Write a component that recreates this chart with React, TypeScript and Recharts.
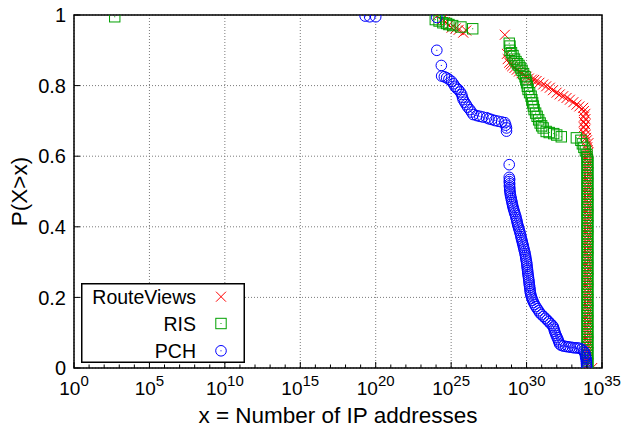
import React from 'react';
import { ScatterChart, Scatter, XAxis, YAxis, CartesianGrid, ReferenceArea, Legend } from 'recharts';

const FONT = '"Liberation Sans", Arial, Helvetica, sans-serif';
const RED = '#ff0000';
const GREEN = '#00a000';
const BLUE = '#0000ff';

const xDecades = [0,1,2,3,4,5,6,7,8,9,10,11,12,13,14,15,16,17,18,19,20,21,22,23,24,25,26,27,28,29,30,31,32,33,34,35];
const xMajor = [0,5,10,15,20,25,30,35];
const yTicks = [0,0.2,0.4,0.6,0.8,1];
const yTickLabels = ['0','0.2','0.4','0.6','0.8','1'];
const seriesNames = ['RouteViews','RIS','PCH'];

const rvLogX = [24.05,24.37,24.6,24.85,25.03,25.3,25.5,25.8,26.0,
  28.56,
  28.7,28.75,28.85,28.95,29.05,29.2,29.35,29.5,29.67,29.85,30.0,30.15,30.35,30.5,30.66,30.85,31.1,31.3,31.54,31.75,31.99,32.2,32.43,32.65,32.87,33.1,33.31,33.5,33.75,
  33.8,33.9,33.8,33.9,33.8,33.9,33.8,33.9,33.8,33.9,33.95,34.0,34.1,
  34.02,34.08,34.02,34.08,34.02,34.08,34.02,34.08,34.02,34.08,34.02,34.08,34.02,34.08,34.02,34.08,34.02,34.08,34.02,34.08,34.02,34.08,34.02,34.08,34.02,34.08,34.02,34.08,34.02,34.08,34.02,34.08,34.02,34.08,34.02,34.08,34.02,34.08,34.02,34.08,34.02,34.08,
  34.35];
const rvY = [0.997,0.985,0.98,0.972,0.964,0.962,0.958,0.95,0.956,
  0.944,
  0.89,0.875,0.865,0.86,0.855,0.85,0.845,0.84,0.835,0.83,0.825,0.82,0.817,0.816,0.813,0.808,0.803,0.798,0.794,0.787,0.78,0.775,0.77,0.765,0.76,0.753,0.746,0.741,0.737,
  0.728,0.72,0.712,0.705,0.697,0.69,0.682,0.675,0.667,0.66,0.652,0.645,0.637,
  0.625,0.61,0.595,0.58,0.565,0.55,0.535,0.52,0.505,0.49,0.475,0.46,0.445,0.43,0.415,0.4,0.385,0.37,0.355,0.34,0.325,0.31,0.295,0.28,0.265,0.25,0.235,0.22,0.205,0.19,0.175,0.16,0.145,0.13,0.115,0.1,0.085,0.07,0.055,0.04,0.025,0.01,
  0.0];
// extra RouteViews points in the dense vertical column near 10^34
const rvColumnLogX = 34.05;
const rvColumnY = [0.6175,0.6025,0.5875,0.5725,0.5575,0.5425,0.5275,0.5125,0.4975,0.4825,0.4675,0.4525,0.4375,0.4225,0.4075,0.3925,0.3775,0.3625,0.3475,0.3325,0.3175,0.3025,0.2875,0.2725,0.2575,0.2425,0.2275,0.2125,0.1975,0.1825,0.1675,0.1525,0.1375,0.1225,0.1075,0.0925,0.0775,0.0625,0.0475,0.0325,0.0175];

const risLogX = [2.7,
  23.95,24.2,24.45,24.7,24.85,25.1,25.65,26.43,
  28.85,28.9,28.9,29.0,29.1,29.2,29.3,29.4,29.5,29.6,29.7,29.8,29.9,29.95,30.0,30.05,30.1,30.2,30.3,30.35,30.4,30.45,30.5,30.6,30.7,30.8,30.9,31.0,31.1,31.3,31.5,31.8,32.0,32.3,
  33.3,33.6,33.7,33.8,33.9,34.0,
  34.0,34.07,34.0,34.07,34.0,34.07,34.0,34.07,34.0,34.07,34.0,34.07,34.0,34.07,34.0,34.07,34.0,34.07,34.0,34.07,34.0,34.07,34.0,34.07,34.0,34.07,34.0,34.07,34.0,34.07,34.0,34.07,34.0,34.07,34.0,34.07,34.0,34.07,34.0,34.07,34.0,34.07,
  34.35];
const risY = [0.995,
  0.987,0.983,0.978,0.976,0.973,0.97,0.966,0.961,
  0.92,0.912,0.9,0.893,0.885,0.875,0.868,0.862,0.857,0.85,0.843,0.834,0.825,0.816,0.808,0.798,0.789,0.78,0.77,0.76,0.751,0.742,0.732,0.722,0.713,0.703,0.694,0.686,0.68,0.67,0.667,0.664,0.66,0.655,
  0.652,0.645,0.635,0.625,0.615,0.605,
  0.598,0.583,0.568,0.553,0.538,0.523,0.508,0.493,0.478,0.463,0.448,0.433,0.418,0.403,0.388,0.373,0.358,0.343,0.328,0.313,0.298,0.283,0.268,0.253,0.238,0.223,0.208,0.193,0.178,0.163,0.148,0.133,0.118,0.103,0.088,0.073,0.058,0.043,0.028,0.013,
  0.0];
// extra RIS points in the dense vertical column near 10^34
const risColumnLogX = 34.035;
const risColumnY = [0.5905,0.5755,0.5605,0.5455,0.5305,0.5155,0.5005,0.4855,0.4705,0.4555,0.4405,0.4255,0.4105,0.3955,0.3805,0.3655,0.3505,0.3355,0.3205,0.3055,0.2905,0.2755,0.2605,0.2455,0.2305,0.2155,0.2005,0.1855,0.1705,0.1555,0.1405,0.1255,0.1105,0.0955,0.0805,0.0655,0.0505,0.0355,0.0205,0.0055];

const pchLogX = [19.3,19.6,20.0,
  24.05,
  24.05,24.35,
  24.37,24.55,24.7,24.85,25.03,25.15,25.25,25.35,25.47,25.6,25.7,25.75,25.8,25.9,26.0,26.1,26.24,26.35,26.46,26.7,26.9,27.1,27.35,27.5,27.68,27.9,28.12,28.35,28.56,28.62,28.67,28.67,
  28.85,
  28.85,28.88,28.85,28.88,28.86,28.89,28.88,28.91,28.92,28.95,28.98,29.01,29.04,29.07,29.1,29.14,29.18,29.22,29.27,29.3,29.34,29.37,29.4,29.44,29.48,29.52,29.56,29.6,29.63,29.66,29.7,29.73,29.77,29.8,29.83,29.87,29.9,29.93,29.95,29.97,30.0,30.02,30.03,30.05,30.07,30.08,30.1,30.12,30.14,30.16,30.17,30.19,30.21,30.23,30.24,30.27,30.3,30.35,30.4,30.46,30.53,30.61,30.7,30.8,30.88,31.0,31.12,31.24,31.36,31.47,31.58,31.7,31.78,31.82,31.86,31.91,31.97,32.03,32.09,32.14,32.19,32.3,32.45,32.6,32.75,32.9,33.05,33.2,33.35,33.5,33.65,33.78,33.86,33.9,33.92,33.95,33.97,33.97,33.98,33.98];
const pchY = [0.997,0.995,0.995,
  0.993,
  0.9,0.857,
  0.827,0.825,0.822,0.818,0.812,0.805,0.798,0.793,0.789,0.782,0.775,0.767,0.76,0.753,0.746,0.739,0.732,0.725,0.718,0.715,0.713,0.711,0.709,0.706,0.704,0.701,0.699,0.697,0.695,0.688,0.68,0.671,
  0.576,
  0.54,0.534,0.528,0.522,0.516,0.51,0.504,0.498,0.492,0.486,0.48,0.474,0.468,0.462,0.456,0.45,0.444,0.438,0.432,0.426,0.42,0.414,0.408,0.402,0.396,0.39,0.384,0.378,0.372,0.366,0.36,0.354,0.348,0.342,0.336,0.33,0.324,0.318,0.312,0.306,0.3,0.294,0.288,0.282,0.276,0.27,0.264,0.258,0.252,0.246,0.24,0.234,0.228,0.222,0.216,0.21,0.204,0.198,0.192,0.186,0.18,0.174,0.168,0.162,0.156,0.151,0.146,0.141,0.136,0.131,0.126,0.121,0.116,0.11,0.104,0.098,0.092,0.086,0.08,0.074,0.068,0.064,0.062,0.061,0.06,0.059,0.058,0.057,0.057,0.056,0.053,0.048,0.043,0.036,0.03,0.024,0.018,0.012,0.006,0.0];

const toPoints = (lx: number[], ys: number[]) => lx.map((e, i) => ({ x: Math.pow(10, e), y: ys[i] }));
const columnPoints = (lx: number, ys: number[]) => ys.map((y) => ({ x: Math.pow(10, lx), y }));
const rvData = [...columnPoints(rvColumnLogX, rvColumnY), ...toPoints(rvLogX, rvY)];
const risData = [...columnPoints(risColumnLogX, risColumnY), ...toPoints(risLogX, risY)];
const pchData = toPoints(pchLogX, pchY);

const CrossMark = (p: any) => {
  const { cx, cy } = p;
  const s = 5;
  return (
    <g>
      <line x1={cx - s} y1={cy - s} x2={cx + s} y2={cy + s} stroke={RED} strokeWidth={1} />
      <line x1={cx - s} y1={cy + s} x2={cx + s} y2={cy - s} stroke={RED} strokeWidth={1} />
    </g>
  );
};
const SquareMark = (p: any) => {
  const { cx, cy } = p;
  const s = 5.2;
  return (
    <g>
      <rect x={cx - s} y={cy - s} width={2 * s} height={2 * s} fill="none" stroke={GREEN} strokeWidth={1} />
      <rect x={cx - 0.5} y={cy - 0.5} width={1} height={1} fill={GREEN} />
    </g>
  );
};
const CircleMark = (p: any) => {
  const { cx, cy } = p;
  return (
    <g>
      <circle cx={cx} cy={cy} r={5.3} fill="none" stroke={BLUE} strokeWidth={1} />
      <rect x={cx - 0.5} y={cy - 0.5} width={1} height={1} fill={BLUE} />
    </g>
  );
};
const markers = [CrossMark, SquareMark, CircleMark];

const XTick = (props: any) => {
  const { x, y, payload } = props;
  const e = Math.round(Math.log10(payload.value));
  const major = xMajor.includes(e);
  return (
    <g>
      <line x1={x} y1={y} x2={x} y2={y - (major ? 6 : 3.5)} stroke="#000" strokeWidth={1} />
      {major && (
        <text x={x} y={y + 27} textAnchor="middle" fontFamily={FONT} fontSize={19} fill="#000">
          <tspan>10</tspan>
          <tspan dy={-9} fontSize={15}>{e}</tspan>
        </text>
      )}
    </g>
  );
};

const YTick = (props: any) => {
  const { x, y, payload } = props;
  const idx = yTicks.indexOf(payload.value);
  return (
    <g>
      <line x1={x} y1={y} x2={x + 6} y2={y} stroke="#000" strokeWidth={1} />
      <text x={x - 8} y={y} dy="0.36em" textAnchor="end" fontFamily={FONT} fontSize={20} fill="#000">
        {idx >= 0 ? yTickLabels[idx] : String(payload.value)}
      </text>
    </g>
  );
};

const XLabel = (props: any) => {
  const vb = props.viewBox || { x: 74, y: 368, width: 528, height: 64 };
  return (
    <text x={vb.x + vb.width / 2} y={vb.y + 55} textAnchor="middle" fontFamily={FONT} fontSize={22.5} fill="#000">
      x = Number of IP addresses
    </text>
  );
};

const YLabel = (props: any) => {
  const vb = props.viewBox || { x: 0, y: 15, width: 74, height: 353 };
  const cx = vb.x + 19;
  const cy = vb.y + vb.height / 2;
  return (
    <text x={cx} y={cy} dy="0.36em" transform={`rotate(-90 ${cx} ${cy})`} textAnchor="middle" fontFamily={FONT} fontSize={22.5} fill="#000">
      P(X&gt;x)
    </text>
  );
};

const LegendBox = () => {
  const rows = [13.7, 40.5, 67.8];
  return (
    <svg width={164} height={80} style={{ display: 'block' }}>
      <rect x={0.75} y={0.75} width={162.5} height={78.5} fill="#fff" stroke="#000" strokeWidth={1.5} />
      {seriesNames.map((n, i) => {
        const M = markers[i];
        return (
          <g key={n}>
            <text x={115} y={rows[i]} dy="0.36em" textAnchor="end" fontFamily={FONT} fontSize={19.5} fill="#000">{n}</text>
            <M cx={140} cy={rows[i]} />
          </g>
        );
      })}
    </svg>
  );
};

export default function App() {
  return (
    <div style={{ position: 'absolute', left: 0, top: 0, background: '#fff' }}>
      <ScatterChart width={623} height={432} margin={{ top: 15, right: 21, bottom: 0, left: 0 }}>
        <CartesianGrid xAxisId="grid" yAxisId="y" stroke="#7a7a7a" strokeDasharray="1 2" strokeWidth={1} />
        <XAxis
          xAxisId="grid"
          dataKey="x"
          type="number"
          scale="log"
          domain={[1, 1e35]}
          ticks={xMajor.map((e) => Math.pow(10, e))}
          interval={0}
          hide
          height={0}
          allowDataOverflow
        />
        <XAxis
          xAxisId="x"
          dataKey="x"
          type="number"
          scale="log"
          domain={[1, 1e35]}
          ticks={xDecades.map((e) => Math.pow(10, e))}
          interval={0}
          tick={<XTick />}
          tickLine={false}
          tickSize={0}
          tickMargin={0}
          axisLine={false}
          height={64}
          allowDataOverflow
          label={<XLabel />}
        />
        <YAxis
          yAxisId="y"
          dataKey="y"
          type="number"
          domain={[0, 1]}
          ticks={yTicks}
          interval={0}
          tick={<YTick />}
          tickLine={false}
          tickSize={0}
          tickMargin={0}
          axisLine={false}
          width={74}
          allowDataOverflow
          label={<YLabel />}
        />
        <ReferenceArea xAxisId="x" yAxisId="y" x1={1} x2={1e35} y1={0} y2={1} fill="none" fillOpacity={0} stroke="#000" strokeWidth={1.5} ifOverflow="visible" />
        <Scatter name="RouteViews" xAxisId="x" yAxisId="y" data={rvData} shape={CrossMark} isAnimationActive={false} />
        <Scatter name="RIS" xAxisId="x" yAxisId="y" data={risData} shape={SquareMark} isAnimationActive={false} />
        <Scatter name="PCH" xAxisId="x" yAxisId="y" data={pchData} shape={CircleMark} isAnimationActive={false} />
        <Legend
          layout="vertical"
          align="center"
          verticalAlign="middle"
          content={<LegendBox />}
          wrapperStyle={{ left: 81, top: 283, width: 164, height: 80 }}
        />
      </ScatterChart>
    </div>
  );
}
